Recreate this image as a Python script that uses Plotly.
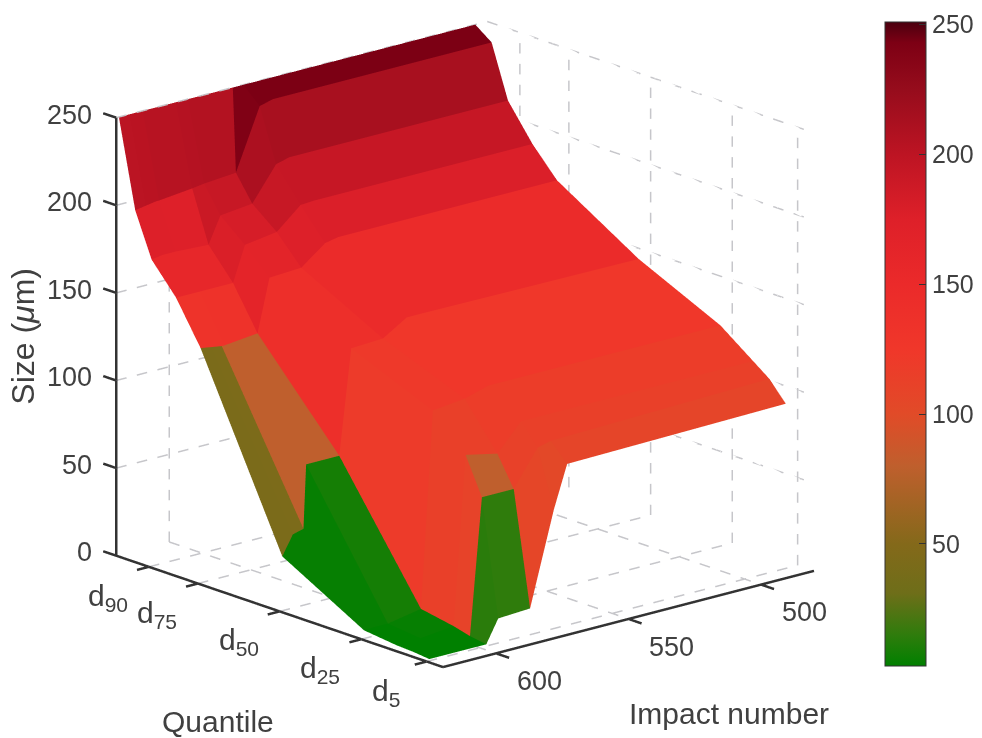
import plotly.graph_objects as go

# ---- data -----------------------------------------------------------------
impact = [619, 615, 611, 610, 597.5, 593, 581, 572, 567, 484.5]
impact_top_row = [619, 615, 611, 610, 597.5, 593, 576, 572, 567, 484.5]
quantile = [100, 95, 90, 82.5, 75, 50, 25, 15, 10, 5]
size_q100 = [250, 250, 250, 250, 250, 250, 250, 250, 250, 250]
size_q95 = [200, 201, 202, 202, 204, 205, 206.5, 241, 243, 243]
size_q90 = [175, 176, 176, 176, 175, 190, 192, 211, 213, 213]
size_q82 = [158, 158, 158, 158, 158, 178, 180.6, 192.5, 193, 193]
size_q75 = [134, 133, 132, 132, 134, 164, 165, 175.5, 177, 177]
size_q50 = [31, 42, 43.6, 80, 80, 139.6, 140.5, 149, 149, 148]
size_q25 = [4.7, 5, 5, 5, 8.5, 120, 122, 126, 126, 126]
size_q15 = [2.5, 2.5, 3, 3, 5, 101, 97, 112, 112, 112]
size_q10 = [2, 2, 2, 2, 2.5, 80, 80, 100, 102, 105]
size_q5 = [1, 1, 1, 1, 1, 14, 15, 68, 92, 94]
facet_overrides = {
    (6, 4): 114, (6, 5): 114, (6, 6): 118, (6, 7): 118, (6, 8): 118,
    (7, 4): 110, (7, 6): 112, (7, 7): 114, (7, 8): 114,
    (8, 6): 106, (8, 7): 104, (8, 8): 107,
}

size_ticks = [0, 50, 100, 150, 200, 250]
impact_ticks = [500, 550, 600]
quantile_ticks = [90, 75, 50, 25, 5]
quantile_labels = ["d<sub>90</sub>", "d<sub>75</sub>", "d<sub>50</sub>", "d<sub>25</sub>", "d<sub>5</sub>"]
colorbar_ticks = [50, 100, 150, 200, 250]

colorscale_values = [3, 15, 31, 50, 80, 100, 125, 150, 175, 200, 225, 243, 251]
colorscale_colors = ["#008000", "#2f7c0c", "#6e6e19", "#84691a", "#bf5f2d", "#e14b28", "#f0372a",
                     "#eb2a2a", "#de2029", "#bd1423", "#960c1c", "#7d0014", "#4b000f"]

# ---- axis limits and view -------------------------------------------------
I_HI, I_LO, Q_HI, Q_LO, Z_MAX = 620, 480, 100, 0, 250
CMIN, CMAX = colorscale_values[0], colorscale_values[-1]
TEXT = "#404040"
FONT = "Liberation Sans, Arial, sans-serif"
R = 3.0
ZOOM = 1.449
DASH_PERIOD, DASH_ON = 21.0, 0.5
PX_PER_I, PX_PER_Q, PX_PER_Z = 2.74, 3.45, 1.748

rows = [size_q100, size_q95, size_q90, size_q82, size_q75, size_q50, size_q25, size_q15, size_q10, size_q5]
nr, nc = len(quantile), len(impact)

xs, ys, zs = [], [], []
for r in range(nr):
    for c in range(nc):
        xs.append(impact_top_row[c] if r == 0 else impact[c])
        ys.append(-quantile[r])
        zs.append(rows[r][c])

ii, jj, kk, cell = [], [], [], []
for r in range(nr - 1):
    for c in range(nc - 1):
        a = r * nc + c
        b = a + 1
        d = a + nc
        e = d + 1
        v = facet_overrides.get((r, c), rows[r + 1][c + 1])
        ii += [a, a]
        jj += [b, e]
        kk += [e, d]
        cell += [v, v]

span = CMAX - CMIN
cs = [[(v - CMIN) / span, col] for v, col in zip(colorscale_values, colorscale_colors)]

fig = go.Figure()
fig.add_trace(go.Mesh3d(
    x=xs, y=ys, z=zs, i=ii, j=jj, k=kk,
    intensity=cell, intensitymode="cell", colorscale=cs, cmin=CMIN, cmax=CMAX,
    flatshading=True,
    lighting=dict(ambient=1, diffuse=0, specular=0, fresnel=0, roughness=1),
    hoverinfo="skip",
    colorbar=dict(
        lenmode="pixels", len=644, thickness=41, thicknessmode="pixels",
        x=885 / 982, xanchor="left", y=1 - 344 / 738, yanchor="middle",
        tickvals=colorbar_ticks, ticks="inside", ticklen=7, tickcolor="#333333", tickwidth=1,
        outlinecolor="#333333", outlinewidth=1, ypad=0, xpad=0,
        tickfont=dict(family=FONT, size=25, color=TEXT),
    ),
))


def segs(pairs):
    X, Y, Z = [], [], []
    for p, q in pairs:
        X += [p[0], q[0], None]
        Y += [-p[1], -q[1], None]
        Z += [p[2], q[2], None]
    return X, Y, Z


def dashed(p, q):
    length = abs(p[0] - q[0]) * PX_PER_I + abs(p[1] - q[1]) * PX_PER_Q + abs(p[2] - q[2]) * PX_PER_Z
    n = max(1, round(length / DASH_PERIOD))
    out = []
    for k in range(n):
        t0, t1 = k / n, (k + DASH_ON) / n
        out.append((tuple(a + (b - a) * t0 for a, b in zip(p, q)),
                    tuple(a + (b - a) * t1 for a, b in zip(p, q))))
    return out


grid = []
for q in quantile_ticks:
    grid += dashed((I_HI, q, 0), (I_LO, q, 0))
    grid += dashed((I_LO, q, 0), (I_LO, q, Z_MAX))
for i in impact_ticks:
    grid += dashed((i, Q_HI, 0), (i, Q_LO, 0))
    grid += dashed((i, Q_HI, 0), (i, Q_HI, Z_MAX))
for z in size_ticks[1:]:
    grid += dashed((I_HI, Q_HI, z), (I_LO, Q_HI, z))
    grid += dashed((I_LO, Q_HI, z), (I_LO, Q_LO, z))
gx, gy, gz = segs(grid)
fig.add_trace(go.Scatter3d(x=gx, y=gy, z=gz, mode="lines", hoverinfo="skip", showlegend=False,
                           line=dict(color="#c6c6ca", width=3)))

axes = [((I_HI, Q_HI, 0), (I_HI, Q_LO, 0)), ((I_HI, Q_LO, 0), (I_LO, Q_LO, 0)), ((I_HI, Q_HI, 0), (I_HI, Q_HI, Z_MAX))]
for q in quantile_ticks:
    axes.append(((I_HI, q, 0), (I_HI + 4.5, q, 0)))
for i in impact_ticks:
    axes.append(((i, Q_LO, 0), (i, Q_LO - 4, 0)))
for z in size_ticks:
    axes.append(((I_HI, Q_HI, z), (I_HI, Q_HI + 4, z)))
ax, ay, az = segs(axes)
fig.add_trace(go.Scatter3d(x=ax, y=ay, z=az, mode="lines", hoverinfo="skip", showlegend=False,
                           line=dict(color="#333333", width=5)))

notes = []
def note(x, q, z, text, dx, dy, size=27, angle=0, anchor="center"):
    notes.append(dict(x=x, y=-q, z=z, text=text, showarrow=False, xshift=dx, yshift=dy, textangle=angle,
                      xanchor=anchor, yanchor="middle", font=dict(family=FONT, size=size, color=TEXT)))


for z in size_ticks:
    note(I_HI, Q_HI, z, str(z), -22, 3, anchor="right")
for q, lab in zip(quantile_ticks, quantile_labels):
    note(I_HI, q, 0, lab, -41, -31, 30)
for i in impact_ticks:
    note(i, Q_LO, 0, str(i), 43, -28)
note(I_HI, Q_HI, 125, "Size (<i>μ</i>m)", -93, 0, 32, -90)
note(I_HI, 50, 0, "Quantile", -62, -111, 30)
note(550, Q_LO, 0, "Impact number", 100, -95, 30)

hidden = dict(visible=False, showgrid=False, showbackground=False, zeroline=False, showspikes=False)
fig.update_layout(
    width=982, height=738, margin=dict(l=0, r=0, t=0, b=0), paper_bgcolor="white",
    showlegend=False,
    scene=dict(
        domain=dict(x=[0, 917 / 982], y=[0.063, 1]),
        xaxis=dict(range=[I_LO, I_HI + 5], **hidden),
        yaxis=dict(range=[-(Q_HI + 4), Q_LO + 4], **hidden),
        zaxis=dict(range=[0, Z_MAX], **hidden),
        aspectmode="manual",
        aspectratio=dict(x=1.017 * ZOOM, y=1.071 * ZOOM, z=0.915 * ZOOM),
        camera=dict(
            projection=dict(type="orthographic"),
            eye=dict(x=0.6278 * R, y=0.7197 * R, z=0.2974 * R),
            up=dict(x=0, y=0, z=1),
            center=dict(x=0, y=0, z=0),
        ),
        annotations=notes,
    ),
)
fig.write_html("out.html", config=dict(displayModeBar=False), post_script="document.body.style.margin='0';")
